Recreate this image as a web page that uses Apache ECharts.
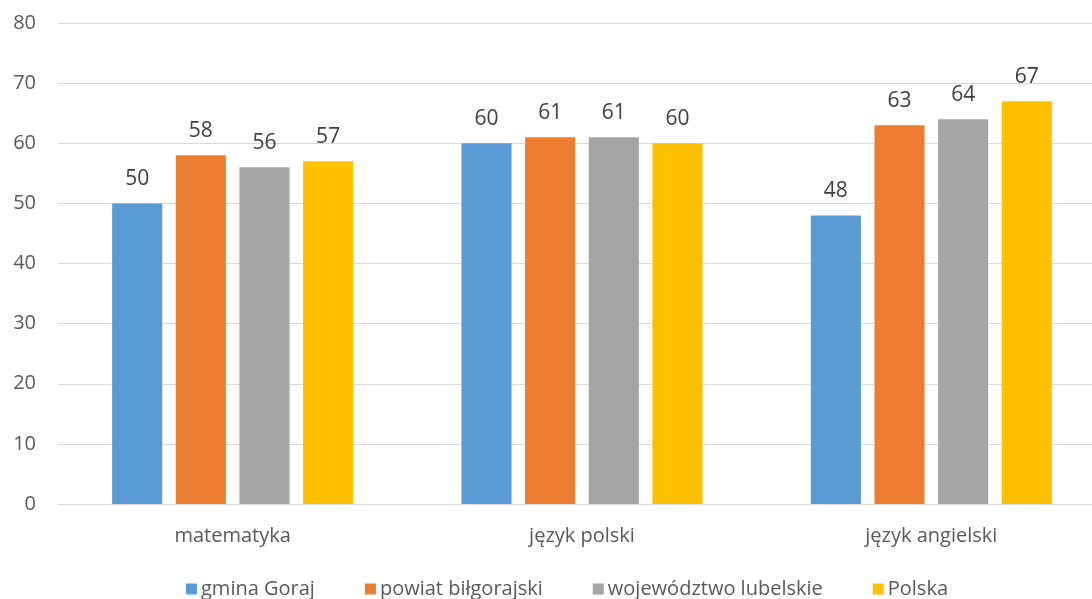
<!DOCTYPE html>
<html><head><meta charset="utf-8">
<script src="https://cdn.jsdelivr.net/npm/echarts@6/dist/echarts.min.js"></script>
<style>html,body{margin:0;padding:0;background:#fff;overflow:hidden}#c{width:1106px;height:599px}</style>
</head><body><div id="c"></div>
<script>
const categories = ['matematyka', 'język polski', 'język angielski'];
const seriesNames = ['gmina Goraj', 'powiat biłgorajski', 'województwo lubelskie', 'Polska'];
const gminaGoraj = [50, 60, 48];
const powiatBilgorajski = [58, 61, 63];
const wojewodztwoLubelskie = [56, 61, 64];
const polska = [57, 60, 67];
const colors = ['#5B9BD5', '#ED7D31', '#A5A5A5', '#FFC000'];
const values = [gminaGoraj, powiatBilgorajski, wojewodztwoLubelskie, polska];
const font = '"Open Sans", "Noto Sans", sans-serif';
const chart = echarts.init(document.getElementById('c'));
chart.setOption({
  animation: false,
  color: colors,
  grid: {left: 58, right: 0, top: 23, height: 481, containLabel: false},
  legend: {
    top: 574, left: 181, itemWidth: 11, itemHeight: 11, itemGap: 50,
    icon: 'rect',
    textStyle: {fontFamily: font, fontSize: 20, color: '#595959', padding: [0, 0, 0, -1]},
    data: seriesNames
  },
  xAxis: {
    type: 'category', data: categories,
    axisLine: {show: true, lineStyle: {color: '#D9D9D9'}},
    axisTick: {show: false},
    axisLabel: {fontFamily: font, fontSize: 20, color: '#595959', margin: 22}
  },
  yAxis: {
    type: 'value', min: 0, max: 80, interval: 10,
    axisLine: {show: false}, axisTick: {show: false},
    splitLine: {lineStyle: {color: '#D9D9D9', width: 1}},
    axisLabel: {fontFamily: font, fontSize: 20, color: '#595959', margin: 22}
  },
  series: seriesNames.map((n, i) => ({
    name: n, type: 'bar', data: values[i],
    barGap: '27%', barCategoryGap: '31%',
    label: {show: true, position: 'top', distance: 14, fontFamily: font, fontSize: 21, color: '#404040'}
  }))
});
</script></body></html>
